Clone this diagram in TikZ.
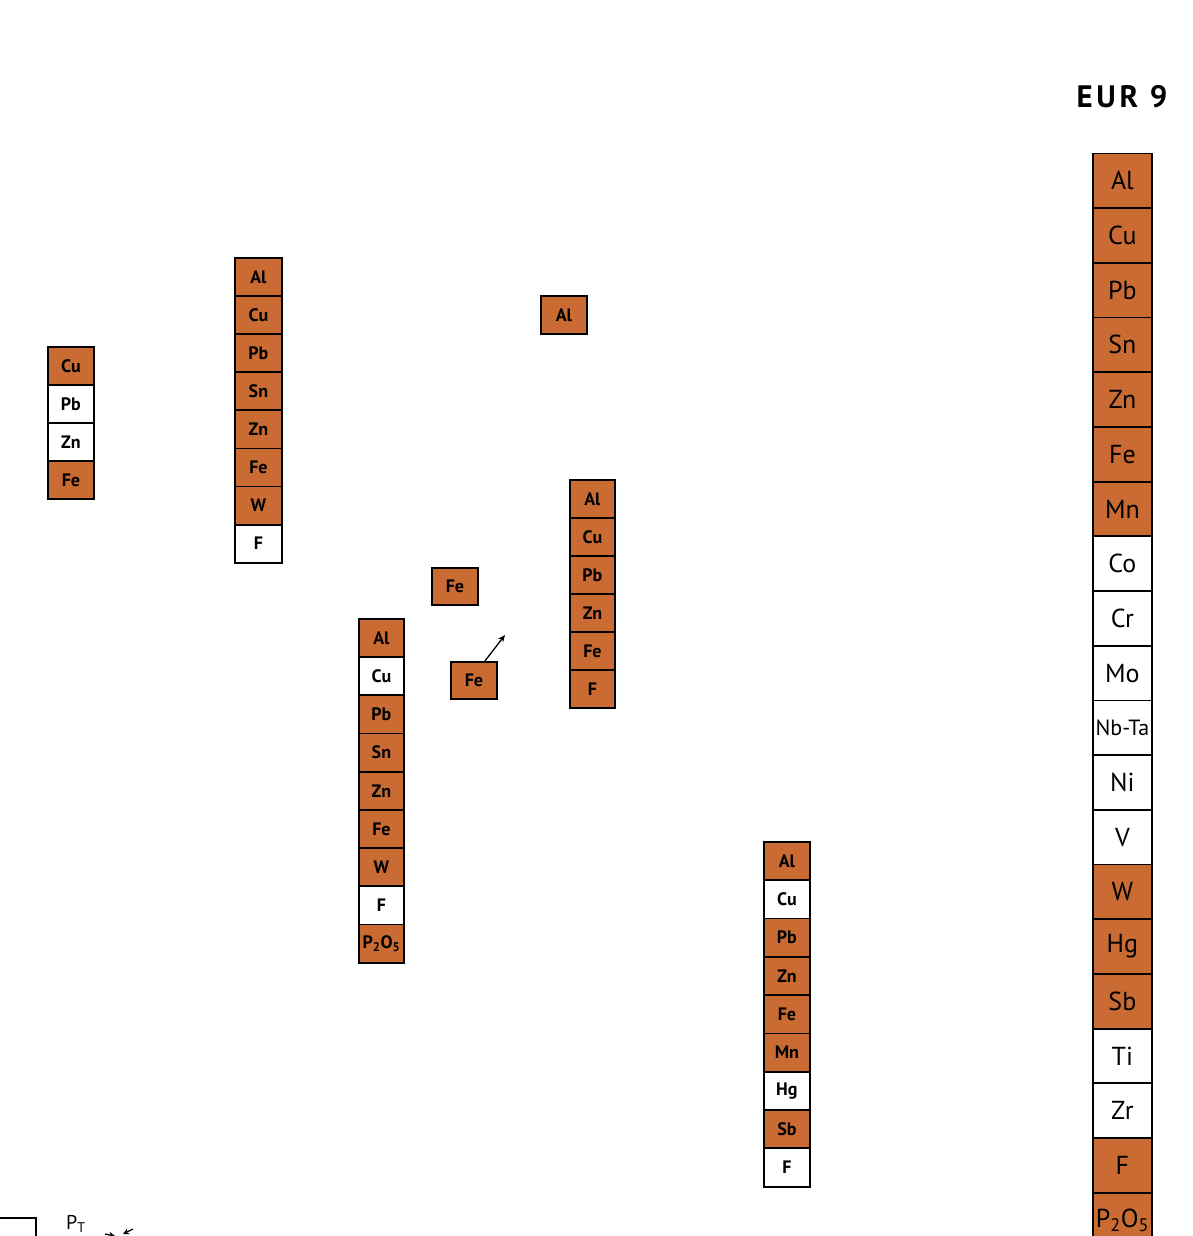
\documentclass[tikz,border=0pt]{standalone}
\usepackage{fontspec}
\setmainfont{PT Sans}
\usetikzlibrary{arrows.meta}
\definecolor{o}{RGB}{201,107,50}
\definecolor{w}{RGB}{255,255,255}
\begin{document}
\begin{tikzpicture}[x=1pt,y=-1pt,
  cell/.style={draw=black,line width=1.8pt,inner sep=0pt,anchor=north west,
    minimum width=46pt,minimum height=38pt,font=\fontsize{18}{18}\selectfont\bfseries},
  bigcell/.style={draw=black,line width=1.8pt,inner sep=0pt,anchor=north west,
    minimum width=59pt,minimum height=54.7pt,font=\fontsize{26}{26}\selectfont}]
\useasboundingbox (0,0) rectangle (1192,1236);
\fill[white] (0,0) rectangle (1192,1236);
% column 1
\foreach [count=\i] \t/\c in {Cu/o,Pb/w,Zn/w,Fe/o}
  \node[cell,fill=\c] (a\i) at (47,{346+(\i-1)*38}) {\t};
% column 2
\foreach [count=\i] \t/\c in {Al/o,Cu/o,Pb/o,Sn/o,Zn/o,Fe/o,W/o,F/w}
  \node[cell,minimum width=47pt,minimum height=38.1pt,fill=\c] (b\i) at (234,{257+(\i-1)*38.1}) {\t};
% single Al
\node[cell,fill=o] (al) at (540,295) {Al};
% column 3
\foreach [count=\i] \t/\c in {Al/o,Cu/o,Pb/o,Zn/o,Fe/o,F/o}
  \node[cell,minimum width=45pt,fill=\c] (c\i) at (569,{479+(\i-1)*38}) {\t};
% single Fe
\node[cell,minimum height=37pt,fill=o] (fe1) at (431,567) {Fe};
\node[cell,minimum height=37pt,fill=o] (fe2) at (450,661) {Fe};
\coordinate (tip) at (505,635);
\draw[line width=1.3pt,-{Stealth[length=7pt,width=6pt]}] ([xshift=11pt]fe2.north) -- (tip);
% column 4
\foreach [count=\i] \t/\c in {Al/o,Cu/w,Pb/o,Sn/o,Zn/o,Fe/o,W/o,F/w,{P\textsubscript{2}O\textsubscript{5}}/o}
  \node[cell,minimum width=45pt,minimum height=38.2pt,fill=\c] (d\i) at (358,{618+(\i-1)*38.2}) {\t};
% column 5
\foreach [count=\i] \t/\c in {Al/o,Cu/w,Pb/o,Zn/o,Fe/o,Mn/o,Hg/w,Sb/o,F/w}
  \node[cell,minimum height=38.3pt,fill=\c] (e\i) at (763,{841+(\i-1)*38.3}) {\t};
% EUR 9 column
\node[font=\fontsize{31}{31}\selectfont\bfseries\addfontfeatures{LetterSpace=12}] (eur) at (1122,97) {EUR 9};
\foreach [count=\i] \t/\c in {Al/o,Cu/o,Pb/o,Sn/o,Zn/o,Fe/o,Mn/o,Co/w,Cr/w,Mo/w,{\fontsize{22}{22}\selectfont Nb-Ta}/w,Ni/w,V/w,W/o,Hg/o,Sb/o,Ti/w,Zr/w,F/o,{P\textsubscript{2}O\textsubscript{5}}/o}
  \node[bigcell,fill=\c] (g\i) at (1092,{152.5+(\i-1)*54.7}) {\t};
% bottom left fragments
\coordinate (bl1) at (-5,1218);
\coordinate (bl2) at (36,1218);
\coordinate (bl3) at (36,1240);
\draw[line width=1.5pt] (bl1) -- (bl2) -- (bl3);
\node[anchor=north west,inner sep=0pt,font=\fontsize{20}{20}\selectfont] (pt) at (66,1215) {P\textsubscript{T}};
\coordinate (m1) at (105,1234);
\coordinate (m2) at (133,1229);
\draw[line width=1.3pt,-{Stealth[length=6pt,width=6pt]}] (m1) -- ++(10,2);
\draw[line width=1.3pt,-{Stealth[length=6pt,width=6pt]}] (m2) -- ++(-10,5);
\end{tikzpicture}
\end{document}
